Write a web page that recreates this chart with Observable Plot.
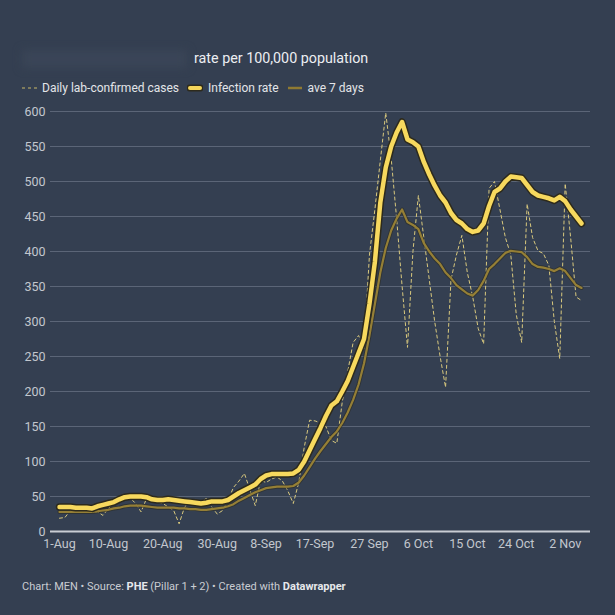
<!DOCTYPE html>
<html><head><meta charset="utf-8">
<script src="https://cdn.jsdelivr.net/npm/d3@7"></script>
<script src="https://cdn.jsdelivr.net/npm/@observablehq/plot@0.6"></script>
<style>
html,body{margin:0;padding:0}
body{background:#343f51;font-family:Roboto,"Noto Sans",sans-serif;width:615px;height:615px;overflow:hidden;position:relative}
#title{position:absolute;left:194px;top:50px;font-size:14.3px;color:#eceef1;white-space:nowrap}
#smudge{position:absolute;left:22px;top:50px;width:165px;height:18px;background:#3a4557;filter:blur(4px)}
#legend{position:absolute;left:22px;top:81px;display:flex;align-items:center;font-size:12px;color:#e3e5e8;white-space:nowrap}
#legend .it{display:flex;align-items:center;margin-right:8px}
#legend svg{margin-right:5px}
#chart{position:absolute;left:0;top:100px}
#footer{position:absolute;left:22px;top:580px;font-size:11px;color:#c9ccd2;white-space:nowrap}
#footer b{color:#e6e8eb}
</style></head><body>
<div id="smudge"></div>
<div id="title">rate per 100,000 population</div>
<div id="legend">
  <div class="it"><svg width="15" height="10"><line x1="0" y1="5" x2="15" y2="5" stroke="#c8b868" stroke-width="1" stroke-dasharray="3,3"/></svg>Daily lab-confirmed cases</div>
  <div class="it"><svg width="16" height="10"><line x1="3" y1="5" x2="13" y2="5" stroke="#2d2a1c" stroke-width="7" stroke-linecap="round"/><line x1="3" y1="5" x2="13" y2="5" stroke="#f5d65b" stroke-width="4" stroke-linecap="round"/></svg>Infection rate</div>
  <div class="it"><svg width="16" height="10"><line x1="1" y1="5" x2="15" y2="5" stroke="#8f7a32" stroke-width="2.5"/></svg>ave 7 days</div>
</div>
<div id="chart"></div>
<div id="footer">Chart: MEN • Source: <b>PHE</b> (Pillar 1 + 2) • Created with <b>Datawrapper</b></div>
<script>
// Day 0 = 1 Aug, day 96 = 5 Nov
const dailyCases = [
  19,20,30,35,35,30,27,28,23,33,
  40,49,45,48,40,28,47,45,42,40,
  35,30,11,35,42,40,42,47,35,25,
  30,45,63,72,83,60,37,73,70,75,
  78,72,58,40,70,120,159,158,155,150,
  130,126,185,228,270,280,262,395,460,530,
  598,533,447,351,263,400,480,420,360,300,
  250,206,360,395,423,370,335,290,268,490,
  500,460,420,395,310,270,468,420,401,397,
  380,300,247,497,420,335,330
];
const infectionRate = [
  35,35,35,34,34,34,33,36,38,40,
  42,46,49,50,50,50,49,46,45,45,
  46,45,44,43,42,41,40,41,43,43,
  43,45,50,55,59,63,67,75,80,82,
  82,82,82,83,88,100,116,132,148,165,
  180,186,200,215,235,255,275,325,385,470,
  520,550,570,585,560,556,550,528,510,494,
  480,470,455,445,440,432,428,430,440,465,
  485,490,500,507,506,505,495,485,480,478,
  476,473,478,472,460,450,440
];
const ave7Days = [
  28,28,28,28,28,28,28,29,30,31,
  33,34,36,37,37,37,36,35,34,34,
  34,34,33,33,32,32,31,31,32,33,
  34,36,39,44,48,52,56,59,62,63,
  64,64,64,65,70,80,92,104,115,125,
  135,143,155,170,188,210,240,280,325,370,
  405,430,447,460,442,438,432,412,400,390,
  382,370,362,352,346,340,337,345,358,375,
  382,390,398,401,400,399,392,382,378,377,
  375,372,376,372,362,352,348
];
const tickDays = [0,9,19,29,38,47,57,66,75,84,93];
const tickLabels = ["1-Aug","10-Aug","20-Aug","30-Aug","8-Sep","17-Sep","27 Sep","6 Oct","15 Oct","24 Oct","2 Nov"];
const yTicks = [0,50,100,150,200,250,300,350,400,450,500,550,600];

const idx = (d, i) => i;
const val = d => d;

const chart = Plot.plot({
  width: 615,
  height: 460,
  marginLeft: 50,
  marginRight: 25,
  marginTop: 11,
  marginBottom: 29,
  style: {background: "transparent", color: "#c3c7ce", fontSize: "12.5px", fontFamily: "Roboto, sans-serif"},
  x: {domain: [-1.655, 97.655], ticks: tickDays, tickFormat: d => tickLabels[tickDays.indexOf(d)], tickSize: 0, tickPadding: 8, label: null},
  y: {domain: [0, 600], ticks: yTicks, tickSize: 0, tickPadding: 5, label: null},
  marks: [
    Plot.ruleY(yTicks.filter(v => v > 0), {stroke: "#5b6577", strokeWidth: 1}),
    Plot.ruleY([0], {stroke: "#c9cdd4", strokeWidth: 2}),
    Plot.lineY(dailyCases, {x: idx, y: val, stroke: "#d9c97e", strokeWidth: 1, strokeDasharray: "3,3"}),
    Plot.lineY(ave7Days, {x: idx, y: val, stroke: "#2c2b22", strokeWidth: 4, strokeOpacity: 0.6}),
    Plot.lineY(ave7Days, {x: idx, y: val, stroke: "#957f36", strokeWidth: 2.2}),
    Plot.lineY(infectionRate, {x: idx, y: val, stroke: "#2d2a1c", strokeWidth: 7.5, strokeLinejoin: "round"}),
    Plot.lineY(infectionRate, {x: idx, y: val, stroke: "#f7d95e", strokeWidth: 4.5, strokeLinejoin: "round"})
  ]
});
document.getElementById("chart").appendChild(chart);
</script>
</body></html>
